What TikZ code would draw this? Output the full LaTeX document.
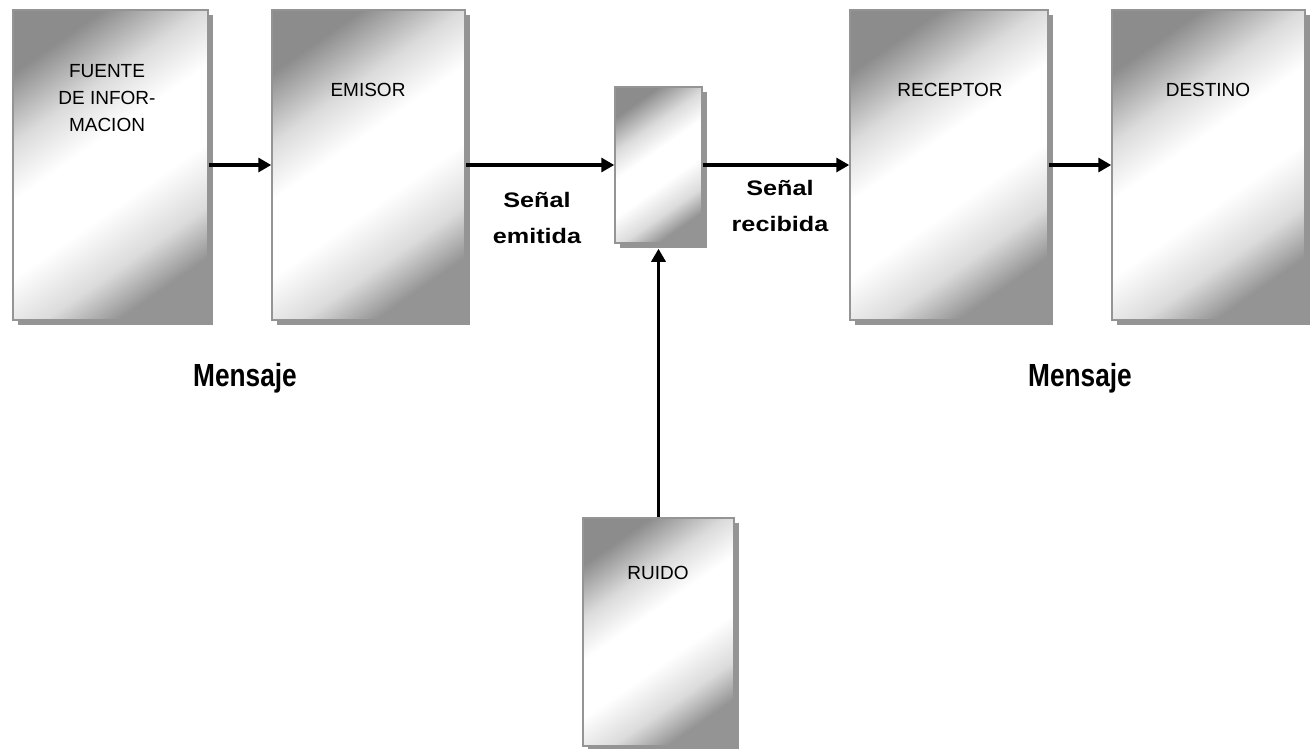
\documentclass[tikz,border=0pt]{standalone}
\usepackage{fontspec}
\setmainfont{Liberation Sans}
\usetikzlibrary{arrows.meta,shadows}
\pgfdeclarehorizontalshading{metal}{100bp}{color(0bp)=(black!45); color(25bp)=(black!45); color(36bp)=(black!14); color(45bp)=(white); color(57bp)=(white); color(67bp)=(black!14); color(75bp)=(black!42); color(100bp)=(black!42)}
\begin{document}
\begin{tikzpicture}[x=1pt,y=-1pt,
  panel/.style={draw=black!42, line width=1.5pt, shading=metal, shading angle=-55,
    inner sep=0pt, general shadow={fill=black!42, shadow xshift=5pt, shadow yshift=-5pt}},
  paneltext/.style={font=\fontsize{19}{27}\selectfont, align=center, inner sep=0pt},
  lbl/.style={font=\bfseries\fontsize{21}{36}\selectfont, align=center, inner sep=0pt, xscale=1.2},
  msg/.style={font=\bfseries\fontsize{32}{36}\selectfont, inner sep=0pt, xscale=0.82},
  conn/.style={line width=3.2pt, -{Triangle[length=13pt,width=14pt]}}]
\useasboundingbox[fill=white] (0,0) rectangle (1311,748);
\node[panel, minimum width=195pt, minimum height=310pt] (fuente) at (110.5,165) {};
\node[panel, minimum width=193pt, minimum height=310pt] (emisor) at (368.5,165) {};
\node[panel, minimum width=87pt, minimum height=156pt] (canal) at (658.5,165) {};
\node[panel, minimum width=198pt, minimum height=310pt] (receptor) at (949,165) {};
\node[panel, minimum width=193pt, minimum height=310pt] (destino) at (1208.5,165) {};
\node[panel, minimum width=151pt, minimum height=228pt] (ruido) at (658.5,632) {};
\node[paneltext] (tfuente) at (107,98) {FUENTE\\DE INFOR-\\MACION};
\node[paneltext] (temisor) at (368,90) {EMISOR};
\node[paneltext] (treceptor) at (950,90) {RECEPTOR};
\node[paneltext] (tdestino) at (1208,90) {DESTINO};
\node[paneltext] (truido) at (658,573) {RUIDO};
\draw[conn] (fuente.east) -- (emisor.west);
\draw[conn] (emisor.east) -- (canal.west);
\draw[conn] (canal.east) -- (receptor.west);
\draw[conn] (receptor.east) -- (destino.west);
\draw[conn, shorten >=5pt] (ruido.north) -- (canal.south);
\node[lbl] (lemitida) at (537,218) {Señal\\emitida};
\node[lbl] (lrecibida) at (780,206) {Señal\\recibida};
\node[msg] (m1) at (245,378) {Mensaje};
\node[msg] (m2) at (1080,378) {Mensaje};
\end{tikzpicture}
\end{document}
